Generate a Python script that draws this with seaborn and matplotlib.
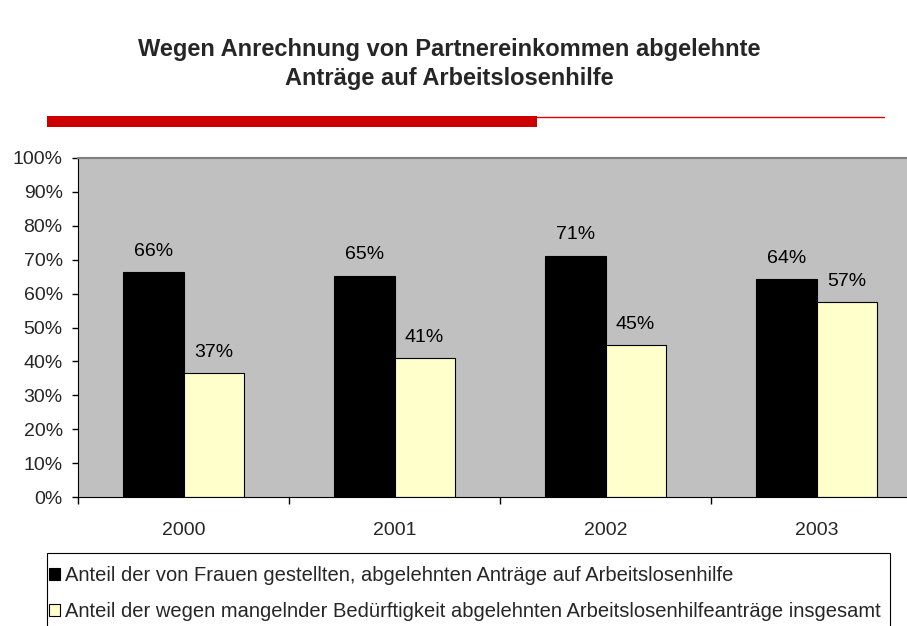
import matplotlib
matplotlib.use("Agg")
import matplotlib.pyplot as plt
import seaborn as sns
import pandas as pd
from matplotlib.patches import Rectangle, Patch
from matplotlib.lines import Line2D

years = ["2000", "2001", "2002", "2003"]
frauen = [66.4, 65.3, 71.2, 64.2]
insgesamt = [36.6, 41.0, 44.8, 57.4]
series_names = [
    "Anteil der von Frauen gestellten, abgelehnten Anträge auf Arbeitslosenhilfe",
    "Anteil der wegen mangelnder Bedürftigkeit abgelehnten Arbeitslosenhilfeanträge insgesamt",
]
title = "Wegen Anrechnung von Partnereinkommen abgelehnte\nAnträge auf Arbeitslosenhilfe"

df = pd.DataFrame({
    "Jahr": years * 2,
    "Wert": frauen + insgesamt,
    "Serie": [series_names[0]] * 4 + [series_names[1]] * 4,
})

sns.set_style("white")
plt.rcParams["font.family"] = ["Liberation Sans", "DejaVu Sans"]

W, H = 907, 626
fig = plt.figure(figsize=(W / 100, H / 100), dpi=100)
ax = fig.add_axes([78 / W, 1 - 497 / H, 844 / W, 339 / H])
ax.set_facecolor("#C0C0C0")

colors = ["#000000", "#FFFFCC"]
sns.barplot(data=df, x="Jahr", y="Wert", hue="Serie", palette=colors,
            width=0.57, gap=0, ax=ax, legend=False, edgecolor="black",
            linewidth=0.8, saturation=1)

ax.set_xlim(-0.5, 3.5)
ax.set_ylim(0, 100)
ax.set_xlabel("")
ax.set_ylabel("")

# value labels
for cont in ax.containers:
    for bar in cont:
        h = bar.get_height()
        ax.text(bar.get_x() + bar.get_width() / 2, h + 3.6, f"{round(h)}%",
                ha="center", va="bottom", fontsize=14, color="black")

ax.set_yticks(range(0, 101, 10))
ax.set_yticklabels([f"{v}%" for v in range(0, 101, 10)], fontsize=14)
ax.tick_params(axis="y", direction="out", length=4, width=1, color="black", pad=7, left=True)

ax.set_xticks([0, 1, 2, 3])
ax.set_xticklabels(years, fontsize=14)
ax.tick_params(axis="x", which="major", length=0, pad=18)
ax.set_xticks([-0.5, 0.5, 1.5, 2.5, 3.5], minor=True)
ax.tick_params(axis="x", which="minor", direction="out", length=5, width=1, color="black", bottom=True)

ax.spines["right"].set_visible(False)
ax.spines["top"].set_color("#808080")
ax.spines["top"].set_linewidth(1.5)
ax.spines["left"].set_color("black")
ax.spines["bottom"].set_color("black")

fig.text(0.495, 1 - 64 / H, title, ha="center", va="center", fontsize=17,
         fontweight="bold", linespacing=1.35)

# red rule
fig.add_artist(Rectangle((47 / W, 1 - 127 / H), (537 - 47) / W, 11 / H,
                         transform=fig.transFigure, color="#CC0000", lw=0))
fig.add_artist(Line2D([537 / W, 884 / W], [1 - 116.5 / H] * 2,
                      transform=fig.transFigure, color="#E00000", lw=1))

# legend frame (extends past the bottom edge as in the original)
fig.add_artist(Rectangle((47 / W, -10 / H), (890 - 47) / W, (626 + 10 - 553) / H,
                         transform=fig.transFigure, facecolor="white",
                         edgecolor="black", lw=0.8, zorder=1))
handles = [Patch(facecolor=c, edgecolor="black", linewidth=0.8) for c in colors]
leg = fig.legend(handles, series_names, loc="upper left",
                 bbox_to_anchor=(49 / W, 1 - 566 / H), fontsize=14.5,
                 frameon=False, handlelength=0.55, handleheight=0.55,
                 handletextpad=0.25, borderpad=0, labelspacing=0.85,
                 borderaxespad=0)
leg.set_zorder(2)

fig.savefig("out.png", dpi=100)
